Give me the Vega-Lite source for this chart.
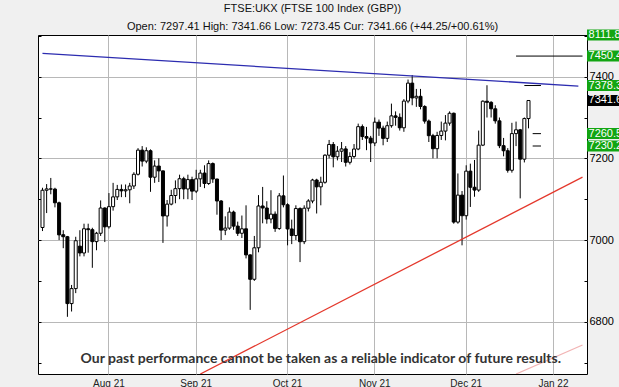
{
  "$schema": "https://vega.github.io/schema/vega-lite/v6.json",
  "width": 549,
  "height": 339,
  "autosize": {"type": "none"},
  "padding": {"left": 38, "top": 35, "right": 32, "bottom": 13},
  "background": "#f0f0f0",
  "config": {
    "view": {"stroke": "#000000", "strokeWidth": 1, "fill": "white"},
    "font": "Liberation Sans"
  },
  "title": {
    "text": "FTSE:UKX (FTSE 100 Index (GBP))",
    "subtitle": "Open: 7297.41 High: 7341.66 Low: 7273.45 Cur: 7341.66 (+44.25/+00.61%)",
    "anchor": "middle",
    "font": "Liberation Sans",
    "fontSize": 11,
    "fontWeight": "normal",
    "color": "#111111",
    "subtitleFont": "Liberation Sans",
    "subtitleFontSize": 11,
    "subtitleColor": "#111111",
    "subtitlePadding": 7,
    "offset": -3
  },
  "datasets": {
    "candles": [
      {"date": "2021-07-09", "open": 7030.7, "high": 7128, "low": 7022, "close": 7121.9},
      {"date": "2021-07-12", "open": 7121.9, "high": 7137, "low": 7066, "close": 7125.2},
      {"date": "2021-07-13", "open": 7125.2, "high": 7152, "low": 7112, "close": 7124.7},
      {"date": "2021-07-14", "open": 7124.7, "high": 7128, "low": 7080, "close": 7091.2},
      {"date": "2021-07-15", "open": 7091.2, "high": 7094, "low": 7000, "close": 7012.6},
      {"date": "2021-07-16", "open": 7013.0, "high": 7024, "low": 6980, "close": 7008.1},
      {"date": "2021-07-19", "open": 7008.1, "high": 7010, "low": 6812, "close": 6844.4},
      {"date": "2021-07-20", "open": 6844.4, "high": 6890, "low": 6825, "close": 6881.1},
      {"date": "2021-07-21", "open": 6881.1, "high": 7008, "low": 6870, "close": 6998.3},
      {"date": "2021-07-22", "open": 6985.0, "high": 7024, "low": 6960, "close": 6968.3},
      {"date": "2021-07-23", "open": 6968.3, "high": 7040, "low": 6960, "close": 7027.6},
      {"date": "2021-07-26", "open": 7027.6, "high": 7040, "low": 6969, "close": 7025.4},
      {"date": "2021-07-27", "open": 7025.4, "high": 7030, "low": 6932, "close": 6996.1},
      {"date": "2021-07-28", "open": 6996.1, "high": 7020, "low": 6975, "close": 7016.6},
      {"date": "2021-07-29", "open": 7016.6, "high": 7097, "low": 7010, "close": 7078.4},
      {"date": "2021-07-30", "open": 7078.4, "high": 7080, "low": 6995, "close": 7032.3},
      {"date": "2021-08-02", "open": 7032.3, "high": 7115, "low": 7028, "close": 7081.7},
      {"date": "2021-08-03", "open": 7081.7, "high": 7140, "low": 7072, "close": 7105.7},
      {"date": "2021-08-04", "open": 7105.7, "high": 7135, "low": 7098, "close": 7123.9},
      {"date": "2021-08-05", "open": 7123.9, "high": 7136, "low": 7105, "close": 7120.4},
      {"date": "2021-08-06", "open": 7120.4, "high": 7136, "low": 7105, "close": 7123.0},
      {"date": "2021-08-09", "open": 7123.0, "high": 7140, "low": 7090, "close": 7132.3},
      {"date": "2021-08-10", "open": 7132.3, "high": 7166, "low": 7125, "close": 7161.0},
      {"date": "2021-08-11", "open": 7161.0, "high": 7225, "low": 7158, "close": 7220.1},
      {"date": "2021-08-12", "open": 7220.1, "high": 7230, "low": 7180, "close": 7193.2},
      {"date": "2021-08-13", "open": 7193.2, "high": 7227, "low": 7188, "close": 7218.7},
      {"date": "2021-08-16", "open": 7218.7, "high": 7222, "low": 7118, "close": 7153.8},
      {"date": "2021-08-17", "open": 7153.8, "high": 7195, "low": 7140, "close": 7181.1},
      {"date": "2021-08-18", "open": 7181.1, "high": 7200, "low": 7142, "close": 7169.3},
      {"date": "2021-08-19", "open": 7169.3, "high": 7170, "low": 6993, "close": 7058.9},
      {"date": "2021-08-20", "open": 7058.9, "high": 7098, "low": 7033, "close": 7087.9},
      {"date": "2021-08-23", "open": 7087.9, "high": 7123, "low": 7085, "close": 7109.0},
      {"date": "2021-08-24", "open": 7109.0, "high": 7146, "low": 7090, "close": 7125.8},
      {"date": "2021-08-25", "open": 7125.8, "high": 7160, "low": 7100, "close": 7150.1},
      {"date": "2021-08-26", "open": 7150.1, "high": 7155, "low": 7100, "close": 7125.0},
      {"date": "2021-08-27", "open": 7125.0, "high": 7160, "low": 7100, "close": 7148.0},
      {"date": "2021-08-31", "open": 7148.0, "high": 7155, "low": 7098, "close": 7119.7},
      {"date": "2021-09-01", "open": 7119.7, "high": 7172, "low": 7115, "close": 7149.8},
      {"date": "2021-09-02", "open": 7149.8, "high": 7172, "low": 7130, "close": 7163.9},
      {"date": "2021-09-03", "open": 7163.9, "high": 7183, "low": 7127, "close": 7138.4},
      {"date": "2021-09-06", "open": 7138.4, "high": 7195, "low": 7135, "close": 7187.2},
      {"date": "2021-09-07", "open": 7187.2, "high": 7190, "low": 7140, "close": 7149.4},
      {"date": "2021-09-08", "open": 7149.4, "high": 7150, "low": 7062, "close": 7095.6},
      {"date": "2021-09-09", "open": 7095.6, "high": 7098, "low": 7000, "close": 7024.2},
      {"date": "2021-09-10", "open": 7024.2, "high": 7058, "low": 7012, "close": 7029.2},
      {"date": "2021-09-13", "open": 7029.2, "high": 7080, "low": 7025, "close": 7068.4},
      {"date": "2021-09-14", "open": 7068.4, "high": 7072, "low": 7025, "close": 7034.1},
      {"date": "2021-09-15", "open": 7034.1, "high": 7045, "low": 7010, "close": 7016.5},
      {"date": "2021-09-16", "open": 7016.5, "high": 7060, "low": 7005, "close": 7027.5},
      {"date": "2021-09-17", "open": 7027.5, "high": 7085, "low": 6955, "close": 6963.6},
      {"date": "2021-09-20", "open": 6963.6, "high": 6965, "low": 6829, "close": 6903.9},
      {"date": "2021-09-21", "open": 6903.9, "high": 7010, "low": 6900, "close": 6981.0},
      {"date": "2021-09-22", "open": 6981.0, "high": 7110, "low": 6970, "close": 7083.4},
      {"date": "2021-09-23", "open": 7083.4, "high": 7130, "low": 7041, "close": 7078.4},
      {"date": "2021-09-24", "open": 7078.4, "high": 7095, "low": 7040, "close": 7051.5},
      {"date": "2021-09-27", "open": 7051.5, "high": 7122, "low": 7041, "close": 7063.4},
      {"date": "2021-09-28", "open": 7063.4, "high": 7070, "low": 7020, "close": 7028.1},
      {"date": "2021-09-29", "open": 7028.1, "high": 7115, "low": 7025, "close": 7108.2},
      {"date": "2021-09-30", "open": 7108.2, "high": 7158, "low": 7080, "close": 7086.4},
      {"date": "2021-10-01", "open": 7086.4, "high": 7090, "low": 6987, "close": 7027.1},
      {"date": "2021-10-04", "open": 7027.1, "high": 7050, "low": 6990, "close": 7011.0},
      {"date": "2021-10-05", "open": 7011.0, "high": 7085, "low": 7000, "close": 7077.1},
      {"date": "2021-10-06", "open": 7077.1, "high": 7080, "low": 6946, "close": 6995.9},
      {"date": "2021-10-07", "open": 6995.9, "high": 7085, "low": 6990, "close": 7078.0},
      {"date": "2021-10-08", "open": 7078.0, "high": 7100, "low": 7070, "close": 7095.6},
      {"date": "2021-10-11", "open": 7095.6, "high": 7150, "low": 7090, "close": 7146.9},
      {"date": "2021-10-12", "open": 7146.9, "high": 7150, "low": 7065, "close": 7130.2},
      {"date": "2021-10-13", "open": 7130.2, "high": 7155, "low": 7085, "close": 7141.4},
      {"date": "2021-10-14", "open": 7141.4, "high": 7210, "low": 7138, "close": 7207.7},
      {"date": "2021-10-15", "open": 7207.7, "high": 7245, "low": 7200, "close": 7234.0},
      {"date": "2021-10-18", "open": 7234.0, "high": 7240, "low": 7178, "close": 7203.8},
      {"date": "2021-10-19", "open": 7203.8, "high": 7230, "low": 7195, "close": 7217.5},
      {"date": "2021-10-20", "open": 7217.5, "high": 7240, "low": 7191, "close": 7223.1},
      {"date": "2021-10-21", "open": 7223.1, "high": 7230, "low": 7180, "close": 7190.3},
      {"date": "2021-10-22", "open": 7190.3, "high": 7215, "low": 7185, "close": 7204.6},
      {"date": "2021-10-25", "open": 7204.6, "high": 7235, "low": 7200, "close": 7222.8},
      {"date": "2021-10-26", "open": 7222.8, "high": 7285, "low": 7220, "close": 7277.6},
      {"date": "2021-10-27", "open": 7277.6, "high": 7283, "low": 7245, "close": 7253.3},
      {"date": "2021-10-28", "open": 7253.3, "high": 7277, "low": 7220, "close": 7249.5},
      {"date": "2021-10-29", "open": 7249.5, "high": 7255, "low": 7191, "close": 7237.6},
      {"date": "2021-11-01", "open": 7237.6, "high": 7300, "low": 7230, "close": 7288.6},
      {"date": "2021-11-02", "open": 7288.6, "high": 7295, "low": 7255, "close": 7274.0},
      {"date": "2021-11-03", "open": 7274.0, "high": 7280, "low": 7232, "close": 7248.9},
      {"date": "2021-11-04", "open": 7248.9, "high": 7290, "low": 7240, "close": 7279.9},
      {"date": "2021-11-05", "open": 7279.9, "high": 7334, "low": 7275, "close": 7304.0},
      {"date": "2021-11-08", "open": 7304.0, "high": 7315, "low": 7280, "close": 7300.4},
      {"date": "2021-11-09", "open": 7300.4, "high": 7310, "low": 7268, "close": 7274.8},
      {"date": "2021-11-10", "open": 7274.8, "high": 7345, "low": 7265, "close": 7340.2},
      {"date": "2021-11-11", "open": 7340.2, "high": 7393, "low": 7335, "close": 7384.2},
      {"date": "2021-11-12", "open": 7384.2, "high": 7404, "low": 7330, "close": 7347.9},
      {"date": "2021-11-15", "open": 7347.9, "high": 7370, "low": 7326, "close": 7351.9},
      {"date": "2021-11-16", "open": 7351.9, "high": 7370, "low": 7320, "close": 7327.0},
      {"date": "2021-11-17", "open": 7327.0, "high": 7330, "low": 7285, "close": 7291.2},
      {"date": "2021-11-18", "open": 7291.2, "high": 7295, "low": 7240, "close": 7255.5},
      {"date": "2021-11-19", "open": 7255.5, "high": 7260, "low": 7200, "close": 7223.6},
      {"date": "2021-11-22", "open": 7223.6, "high": 7265, "low": 7200, "close": 7256.0},
      {"date": "2021-11-23", "open": 7256.0, "high": 7290, "low": 7245, "close": 7266.7},
      {"date": "2021-11-24", "open": 7266.7, "high": 7306, "low": 7244, "close": 7286.3},
      {"date": "2021-11-25", "open": 7286.3, "high": 7315, "low": 7280, "close": 7310.4},
      {"date": "2021-11-26", "open": 7310.4, "high": 7312, "low": 7040, "close": 7044.0},
      {"date": "2021-11-29", "open": 7044.0, "high": 7163, "low": 7040, "close": 7110.0},
      {"date": "2021-11-30", "open": 7110.0, "high": 7120, "low": 6987, "close": 7059.5},
      {"date": "2021-12-01", "open": 7059.5, "high": 7183, "low": 7050, "close": 7168.7},
      {"date": "2021-12-02", "open": 7168.7, "high": 7187, "low": 7081, "close": 7129.2},
      {"date": "2021-12-03", "open": 7129.2, "high": 7196, "low": 7106, "close": 7122.3},
      {"date": "2021-12-06", "open": 7122.3, "high": 7268, "low": 7118, "close": 7232.3},
      {"date": "2021-12-07", "open": 7232.3, "high": 7342, "low": 7230, "close": 7339.9},
      {"date": "2021-12-08", "open": 7339.9, "high": 7379, "low": 7300, "close": 7337.1},
      {"date": "2021-12-09", "open": 7337.1, "high": 7340, "low": 7300, "close": 7321.3},
      {"date": "2021-12-10", "open": 7321.3, "high": 7330, "low": 7285, "close": 7291.8},
      {"date": "2021-12-13", "open": 7291.8, "high": 7300, "low": 7225, "close": 7231.0},
      {"date": "2021-12-14", "open": 7231.0, "high": 7250, "low": 7205, "close": 7218.6},
      {"date": "2021-12-15", "open": 7218.6, "high": 7225, "low": 7165, "close": 7170.8},
      {"date": "2021-12-16", "open": 7170.8, "high": 7287, "low": 7165, "close": 7260.6},
      {"date": "2021-12-17", "open": 7260.6, "high": 7290, "low": 7230, "close": 7269.9},
      {"date": "2021-12-20", "open": 7269.9, "high": 7272, "low": 7102, "close": 7198.0},
      {"date": "2021-12-21", "open": 7198.0, "high": 7300, "low": 7190, "close": 7297.4},
      {"date": "2021-12-22", "open": 7297.41, "high": 7341.66, "low": 7273.45, "close": 7341.66}
    ],
    "trend": [
      {"name": "resistance", "date": "2021-07-09", "price": 7457},
      {"name": "resistance", "date": "2022-01-12", "price": 7377},
      {"name": "support", "date": "2021-09-02", "price": 6672},
      {"name": "support", "date": "2022-01-13", "price": 7154},
      {"name": "support2", "date": "2021-12-17", "price": 6672},
      {"name": "support2", "date": "2022-01-13", "price": 6743}
    ],
    "targets": [
      {"from": "2021-12-17", "to": "2022-01-13", "level": 7450.4},
      {"from": "2021-12-21", "to": "2021-12-29", "level": 7378.3},
      {"from": "2021-12-23", "to": "2021-12-29", "level": 7260.5},
      {"from": "2021-12-23", "to": "2021-12-29", "level": 7230.2}
    ],
    "tags": [
      {"label": "8111.81", "level": 8111.81, "kind": "target"},
      {"label": "7450.41", "level": 7450.41, "kind": "target"},
      {"label": "7378.32", "level": 7378.32, "kind": "target"},
      {"label": "7341.66", "level": 7341.66, "kind": "current"},
      {"label": "7260.53", "level": 7260.53, "kind": "target"},
      {"label": "7230.21", "level": 7230.21, "kind": "target"}
    ]
  },
  "layer": [
    {
      "data": {"name": "candles"},
      "mark": {"type": "rule", "color": "#000000", "strokeWidth": 1},
      "encoding": {
        "x": {
          "field": "date",
          "type": "ordinal",
          "scale": {
            "type": "band",
            "paddingInner": 0,
            "paddingOuter": 0.58,
            "domain": ["2021-07-09","2021-07-12","2021-07-13","2021-07-14","2021-07-15","2021-07-16","2021-07-19","2021-07-20","2021-07-21","2021-07-22","2021-07-23","2021-07-26","2021-07-27","2021-07-28","2021-07-29","2021-07-30","2021-08-02","2021-08-03","2021-08-04","2021-08-05","2021-08-06","2021-08-09","2021-08-10","2021-08-11","2021-08-12","2021-08-13","2021-08-16","2021-08-17","2021-08-18","2021-08-19","2021-08-20","2021-08-23","2021-08-24","2021-08-25","2021-08-26","2021-08-27","2021-08-31","2021-09-01","2021-09-02","2021-09-03","2021-09-06","2021-09-07","2021-09-08","2021-09-09","2021-09-10","2021-09-13","2021-09-14","2021-09-15","2021-09-16","2021-09-17","2021-09-20","2021-09-21","2021-09-22","2021-09-23","2021-09-24","2021-09-27","2021-09-28","2021-09-29","2021-09-30","2021-10-01","2021-10-04","2021-10-05","2021-10-06","2021-10-07","2021-10-08","2021-10-11","2021-10-12","2021-10-13","2021-10-14","2021-10-15","2021-10-18","2021-10-19","2021-10-20","2021-10-21","2021-10-22","2021-10-25","2021-10-26","2021-10-27","2021-10-28","2021-10-29","2021-11-01","2021-11-02","2021-11-03","2021-11-04","2021-11-05","2021-11-08","2021-11-09","2021-11-10","2021-11-11","2021-11-12","2021-11-15","2021-11-16","2021-11-17","2021-11-18","2021-11-19","2021-11-22","2021-11-23","2021-11-24","2021-11-25","2021-11-26","2021-11-29","2021-11-30","2021-12-01","2021-12-02","2021-12-03","2021-12-06","2021-12-07","2021-12-08","2021-12-09","2021-12-10","2021-12-13","2021-12-14","2021-12-15","2021-12-16","2021-12-17","2021-12-20","2021-12-21","2021-12-22","2021-12-23","2021-12-24","2021-12-29","2021-12-30","2021-12-31","2022-01-04","2022-01-05","2022-01-06","2022-01-07","2022-01-10","2022-01-11","2022-01-12","2022-01-13"]
          },
          "axis": {
            "values": ["2021-08-02","2021-09-01","2021-10-01","2021-11-01","2021-12-01","2022-01-04"],
            "labelExpr": "utcFormat(toDate(datum.value), '%b %y')",
            "bandPosition": 0.5,
            "grid": true,
            "gridColor": "#b8b8b8",
            "gridWidth": 1,
            "domain": false,
            "ticks": false,
            "labelAngle": 0,
            "labelFont": "Liberation Sans",
            "labelFontSize": 10,
            "labelColor": "#222222",
            "labelPadding": 4,
            "title": null
          }
        },
        "y": {
          "field": "low",
          "type": "quantitative",
          "scale": {"domain": [6672, 7502], "nice": false, "zero": false, "clamp": true},
          "axis": {
            "orient": "left",
            "values": [6700, 6800, 6900, 7000, 7100, 7200, 7300, 7400, 7500],
            "labels": false,
            "grid": false,
            "domain": false,
            "ticks": true,
            "tickSize": -3,
            "tickColor": "#000000",
            "title": null
          }
        },
        "y2": {"field": "high"}
      }
    },
    {
      "data": {"name": "candles"},
      "mark": {"type": "bar", "size": 3, "stroke": "#000000", "strokeWidth": 1},
      "encoding": {
        "x": {"field": "date", "type": "ordinal"},
        "y": {
          "field": "open",
          "type": "quantitative",
          "axis": {
            "orient": "right",
            "values": [6700, 6800, 6900, 7000, 7100, 7200, 7300, 7400, 7500],
            "labelExpr": "datum.value % 200 === 0 ? format(datum.value, 'd') : ''",
            "grid": true,
            "gridColor": "#b8b8b8",
            "gridWidth": 1,
            "gridOpacity": {"condition": {"test": "datum.value % 200 === 0", "value": 1}, "value": 0},
            "domain": false,
            "ticks": true,
            "tickSize": -3,
            "tickColor": "#000000",
            "labelPadding": 5,
            "labelFont": "Liberation Sans",
            "labelFontSize": 11,
            "labelColor": "#000000",
            "labelAlign": "left",
            "labelBaseline": "middle",
            "title": null
          }
        },
        "y2": {"field": "close"},
        "fill": {
          "condition": {"test": "datum.close >= datum.open", "value": "#ffffff"},
          "value": "#000000"
        }
      }
    },
    {
      "data": {"name": "trend"},
      "mark": {"type": "line", "strokeWidth": 1.3, "clip": true},
      "encoding": {
        "x": {"field": "date", "type": "ordinal"},
        "y": {"field": "price", "type": "quantitative", "axis": null},
        "detail": {"field": "name"},
        "color": {
          "field": "name",
          "type": "nominal",
          "scale": {"domain": ["resistance", "support", "support2"], "range": ["#2c2cb0", "#e4382c", "#f2b4b4"]},
          "legend": null
        }
      }
    },
    {
      "data": {"name": "targets"},
      "mark": {"type": "rule", "color": "#000000", "strokeWidth": 1},
      "encoding": {
        "x": {"field": "from", "type": "ordinal"},
        "x2": {"field": "to"},
        "y": {"field": "level", "type": "quantitative", "axis": null}
      }
    },
    {
      "data": {"name": "tags"},
      "mark": {"type": "point", "shape": "M0.45,-0.55H4V0.55H0.45Z", "size": 400, "filled": true, "opacity": 1, "strokeWidth": 0, "clip": false},
      "encoding": {
        "x": {"datum": "2022-01-13", "type": "ordinal"},
        "y": {"field": "level", "type": "quantitative", "axis": null},
        "fill": {
          "condition": {"test": "datum.kind === 'current'", "value": "#000000"},
          "value": "#12a512"
        }
      }
    },
    {
      "data": {"name": "tags"},
      "mark": {"type": "text", "align": "left", "baseline": "middle", "dx": 6, "fontSize": 11, "font": "Liberation Sans", "color": "#ffffff", "clip": false},
      "encoding": {
        "x": {"datum": "2022-01-13", "type": "ordinal"},
        "y": {"field": "level", "type": "quantitative", "axis": null},
        "text": {"field": "label"}
      }
    },
    {
      "data": {"values": [{"note": "Our past performance cannot be taken as a reliable indicator of future results."}]},
      "mark": {"type": "text", "align": "center", "baseline": "middle", "fontSize": 14, "fontWeight": "bold", "font": "Lato", "color": "#333333"},
      "encoding": {
        "x": {"datum": "2021-10-13", "type": "ordinal"},
        "y": {"datum": 6708, "type": "quantitative", "axis": null},
        "text": {"field": "note"}
      }
    }
  ],
  "resolve": {"axis": {"y": "independent"}}
}
